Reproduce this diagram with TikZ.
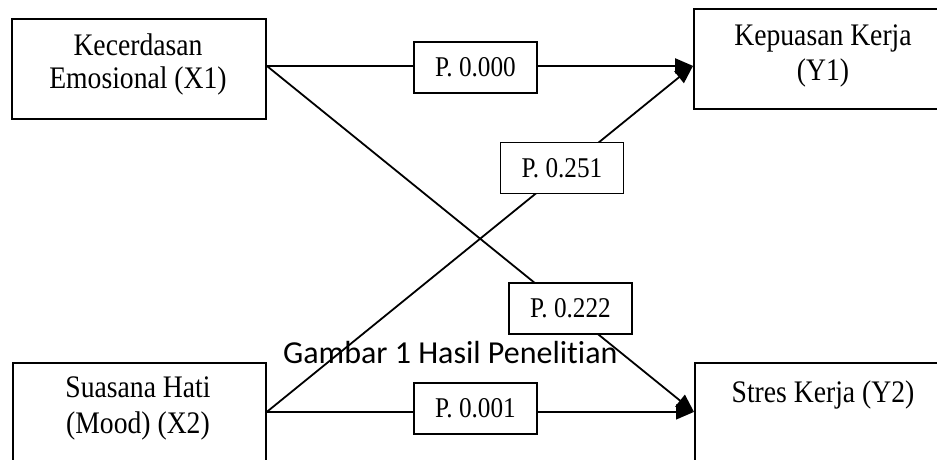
\documentclass[tikz,border=0pt]{standalone}
\usepackage{graphicx}
\usepackage{fontspec}
\setmainfont{Liberation Serif}
\newfontfamily\capfont[Ligatures=NoCommon]{Carlito}
\newcommand{\tallt}[1]{\scalebox{0.97}[1.1]{#1}}
\usetikzlibrary{arrows.meta}
\begin{document}
\begin{tikzpicture}[x=1pt,y=-1pt,
  box/.style={draw, line width=1.8pt, rectangle, inner sep=0pt, anchor=north west, minimum height=100pt},
  txt/.style={font=\fontsize{28.5}{34}\selectfont, anchor=base, inner sep=0pt},
  pbox/.style={draw, fill=white, line width=1.8pt, minimum width=123pt, minimum height=51pt, inner sep=0pt, font=\fontsize{26}{30}\selectfont},
  conn/.style={line width=1.8pt, -{Triangle[length=18pt,width=15pt]}}]
\useasboundingbox (0,0) rectangle (937,459);
\clip (0,0) rectangle (937,459);
% boxes
\node[box, minimum width=254pt] (x1) at (11,18) {};
\node[box, minimum width=260pt] (y1) at (693,8) {};
\node[box, minimum width=253pt, minimum height=120pt] (x2) at (12,362) {};
\node[box, minimum width=260pt, minimum height=120pt] (y2) at (694,362) {};
% box texts
\node[txt] (t1a) at (138,55) {\tallt{Kecerdasan}};
\node[txt] (t1b) at (138,88) {\tallt{Emosional (X1)}};
\node[txt] (t2a) at (823,45) {\tallt{Kepuasan Kerja}};
\node[txt] (t2b) at (823,80) {\tallt{(Y1)}};
\node[txt] (t3a) at (138,397) {\tallt{Suasana Hati}};
\node[txt] (t3b) at (138,433) {\tallt{(Mood) (X2)}};
\node[txt] (t4a) at (823,402) {\tallt{Stres Kerja (Y2)}};
% connector end points
\coordinate (x1o) at ([yshift=3pt]x1.east);
\coordinate (y1i) at ([yshift=-7pt]y1.west);
\coordinate (x2o) at ([yshift=11pt]x2.east);
\coordinate (y2i) at ([yshift=11pt]y2.west);
% connectors
\draw[conn] (x1o) -- (y1i);
\draw[conn] (x1o) -- (y2i);
\draw[conn] (x2o) -- (y1i);
\draw[conn] (x2o) -- (y2i);
% p-value labels
\node[pbox] (p1) at (475.5,67.5) {\tallt{P. 0.000}};
\node[pbox] (p2) at (562,168) {\tallt{P. 0.251}};
\node[pbox] (p3) at (570.5,308.5) {\tallt{P. 0.222}};
\node[pbox] (p4) at (475.5,408.5) {\tallt{P. 0.001}};
% caption
\node[anchor=base west, inner sep=0pt, font=\capfont\fontsize{32}{38}\selectfont] (cap) at (283,363) {Gambar 1 Hasil Penelitian};
\end{tikzpicture}
\end{document}
